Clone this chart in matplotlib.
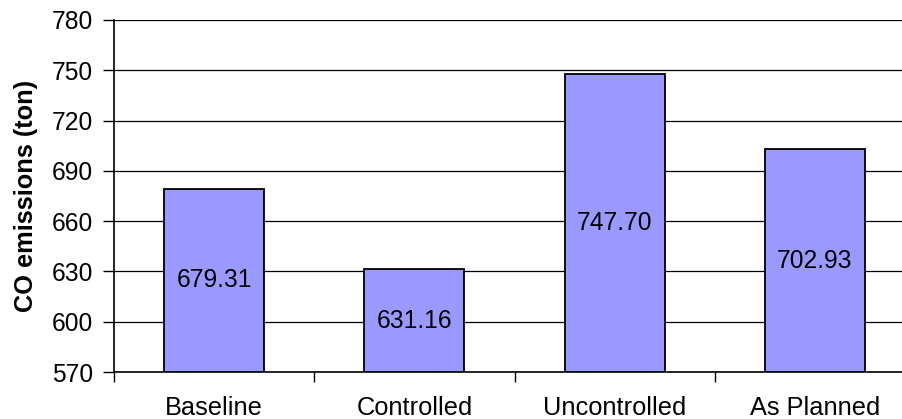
import matplotlib
matplotlib.use("Agg")
import matplotlib.pyplot as plt

categories = ["Baseline", "Controlled", "Uncontrolled", "As Planned"]
emissions = [679.31, 631.16, 747.70, 702.93]
y_ticks = [570, 600, 630, 660, 690, 720, 750, 780]

plt.rcParams["font.family"] = ["Liberation Sans", "DejaVu Sans"]

fig = plt.figure(figsize=(9.03, 4.19), dpi=100)
# plot area runs past the right edge of the figure
ax = fig.add_axes([114 / 903, 1 - 372 / 419, 801 / 903, 352 / 419])

ymin, ymax = y_ticks[0], y_ticks[-1]
x = list(range(len(categories)))
ax.bar(x, [v - ymin for v in emissions], bottom=ymin, width=0.5,
       color="#9999FF", edgecolor="black", linewidth=1.3, zorder=3)

for xi, v in zip(x, emissions):
    ax.text(xi, (ymin + v) / 2, f"{v:.2f}", ha="center", va="center",
            fontsize=17.7, zorder=4)

ax.set_xlim(-0.5, len(categories) - 0.5)
ax.set_ylim(ymin, ymax)
ax.set_yticks(y_ticks)
ax.set_yticklabels([str(t) for t in y_ticks], fontsize=17.7)
ax.yaxis.grid(True, color="black", linewidth=0.9, zorder=0)
ax.set_axisbelow(True)

ax.set_xticks([i - 0.5 for i in range(len(categories) + 1)])
ax.set_xticklabels([])
ax.set_xticks(x, minor=True)
ax.set_xticklabels(categories, minor=True, fontsize=18.3)
ax.tick_params(axis="x", which="minor", length=0, pad=17)
ax.tick_params(axis="x", which="major", length=7, width=1, direction="out")
ax.tick_params(axis="y", length=8, width=1, pad=7)

ax.set_ylabel("CO emissions (ton)", fontsize=18.3, fontweight="bold", labelpad=10)

for side in ("top", "right"):
    ax.spines[side].set_visible(False)
for side in ("left", "bottom"):
    ax.spines[side].set_linewidth(1.2)

fig.savefig("out.png", dpi=100)
